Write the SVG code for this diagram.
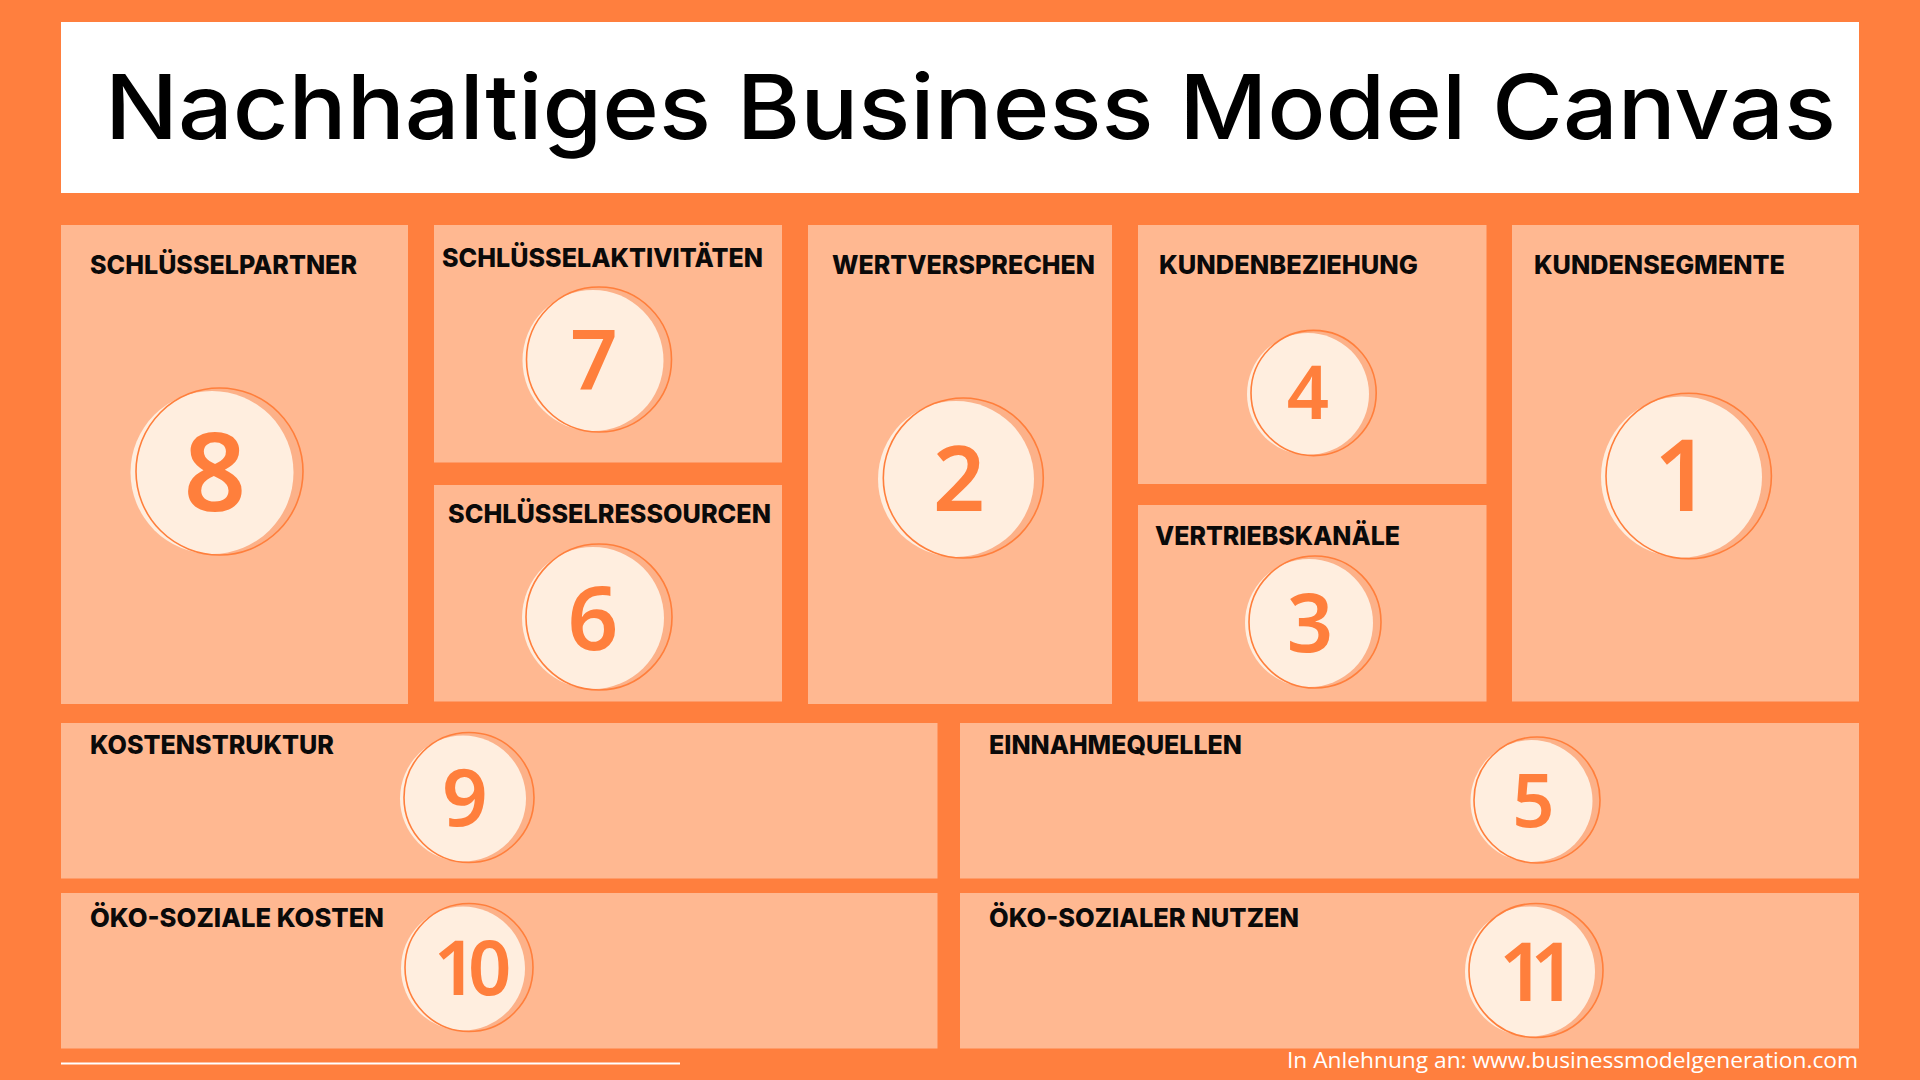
<svg xmlns="http://www.w3.org/2000/svg" width="1920" height="1080" viewBox="0 0 1920 1080">
<style>
.panel{fill:#FFB891}
.lbl{font-family:Inter,"Noto Sans","Liberation Sans",sans-serif;font-weight:800;font-size:26px;fill:#0A0A0A}
.num{font-family:"Noto Sans","Open Sans",sans-serif;font-weight:600;fill:#FF7F3C;text-anchor:middle}
.shade{fill:#FCB189}
.disc{fill:#FFEEDF}
.ring{fill:none;stroke:#FF7F3C;stroke-width:1.6}
</style>
<rect x="0" y="0" width="1920" height="1080" fill="#FF7F3E"/>
<g id="title">
<rect x="61" y="22" width="1798" height="171" fill="#FFFFFF"/>
<text x="105" y="139" font-family="Inter,'Noto Sans','Liberation Sans',sans-serif" font-weight="500" font-size="90" fill="#000" textLength="1731" lengthAdjust="spacingAndGlyphs">Nachhaltiges Business Model Canvas</text>
</g>
<g id="node-schluesselpartner">
<rect class="panel" x="61" y="225" width="347" height="479"/>
<text class="lbl" x="90" y="274" textLength="267" lengthAdjust="spacingAndGlyphs">SCHLÜSSELPARTNER</text>
<circle class="shade" cx="219.5" cy="471.5" r="83.5"/>
<circle class="disc" cx="212" cy="472.5" r="81.5"/>
<circle class="ring" cx="219.5" cy="471.5" r="83.5"/>
<text class="num" x="215" y="511" font-size="109">8</text>
</g>
<g id="node-schluesselaktivitaeten">
<rect class="panel" x="434" y="225" width="348" height="237.5"/>
<text class="lbl" x="442" y="267" textLength="321" lengthAdjust="spacingAndGlyphs">SCHLÜSSELAKTIVITÄTEN</text>
<circle class="shade" cx="599" cy="359.5" r="72.5"/>
<circle class="disc" cx="593" cy="360.5" r="70.5"/>
<circle class="ring" cx="599" cy="359.5" r="72.5"/>
<text class="num" x="594" y="389" font-size="83">7</text>
</g>
<g id="node-schluesselressourcen">
<rect class="panel" x="434" y="485" width="348" height="216.5"/>
<text class="lbl" x="448" y="523" textLength="323" lengthAdjust="spacingAndGlyphs">SCHLÜSSELRESSOURCEN</text>
<circle class="shade" cx="599" cy="617" r="73"/>
<circle class="disc" cx="593" cy="618" r="71"/>
<circle class="ring" cx="599" cy="617" r="73"/>
<text class="num" x="593" y="650" font-size="89">6</text>
</g>
<g id="node-wertversprechen">
<rect class="panel" x="808" y="225" width="304" height="479"/>
<text class="lbl" x="832" y="274" textLength="263" lengthAdjust="spacingAndGlyphs">WERTVERSPRECHEN</text>
<circle class="shade" cx="963.3" cy="478" r="80"/>
<circle class="disc" cx="956" cy="479" r="78"/>
<circle class="ring" cx="963.3" cy="478" r="80"/>
<text class="num" x="959" y="511" font-size="91">2</text>
</g>
<g id="node-kundenbeziehung">
<rect class="panel" x="1138" y="225" width="348.5" height="259"/>
<text class="lbl" x="1159" y="274" textLength="259" lengthAdjust="spacingAndGlyphs">KUNDENBEZIEHUNG</text>
<circle class="shade" cx="1313.6" cy="393" r="62.6"/>
<circle class="disc" cx="1308" cy="394" r="61"/>
<circle class="ring" cx="1313.6" cy="393" r="62.6"/>
<text class="num" x="1308" y="419" font-size="74">4</text>
</g>
<g id="node-vertriebskanaele">
<rect class="panel" x="1138" y="505" width="348.5" height="196.5"/>
<text class="lbl" x="1155" y="545" textLength="245" lengthAdjust="spacingAndGlyphs">VERTRIEBSKANÄLE</text>
<circle class="shade" cx="1315" cy="622" r="66"/>
<circle class="disc" cx="1309" cy="623" r="64"/>
<circle class="ring" cx="1315" cy="622" r="66"/>
<text class="num" x="1310" y="652" font-size="81">3</text>
</g>
<g id="node-kundensegmente">
<rect class="panel" x="1512" y="225" width="347" height="476.5"/>
<text class="lbl" x="1534" y="274" textLength="251" lengthAdjust="spacingAndGlyphs">KUNDENSEGMENTE</text>
<circle class="shade" cx="1688.7" cy="476" r="82.7"/>
<circle class="disc" cx="1681.5" cy="477" r="80.5"/>
<circle class="ring" cx="1688.7" cy="476" r="82.7"/>
<text class="num" x="1682" y="511" font-size="99">1</text>
</g>
<g id="node-kostenstruktur">
<rect class="panel" x="61" y="723" width="876.5" height="155.5"/>
<text class="lbl" x="90" y="754" textLength="244" lengthAdjust="spacingAndGlyphs">KOSTENSTRUKTUR</text>
<circle class="shade" cx="469" cy="797.5" r="65"/>
<circle class="disc" cx="463" cy="798.5" r="63"/>
<circle class="ring" cx="469" cy="797.5" r="65"/>
<text class="num" x="465" y="826" font-size="80">9</text>
</g>
<g id="node-einnahmequellen">
<rect class="panel" x="960" y="723" width="899" height="155.5"/>
<text class="lbl" x="989" y="754" textLength="253" lengthAdjust="spacingAndGlyphs">EINNAHMEQUELLEN</text>
<circle class="shade" cx="1537" cy="800" r="63"/>
<circle class="disc" cx="1531.5" cy="801" r="61"/>
<circle class="ring" cx="1537" cy="800" r="63"/>
<text class="num" x="1533.5" y="826.5" font-size="74">5</text>
</g>
<g id="node-oeko-soziale-kosten">
<rect class="panel" x="61" y="893" width="876.5" height="155.5"/>
<text class="lbl" x="90" y="927" textLength="294" lengthAdjust="spacingAndGlyphs">ÖKO-SOZIALE KOSTEN</text>
<circle class="shade" cx="469" cy="967.5" r="64"/>
<circle class="disc" cx="463" cy="968.5" r="62"/>
<circle class="ring" cx="469" cy="967.5" r="64"/>
<text class="num" x="468" y="995" font-size="76" letter-spacing="-9">10</text>
</g>
<g id="node-oeko-sozialer-nutzen">
<rect class="panel" x="960" y="893" width="899" height="155.5"/>
<text class="lbl" x="989" y="927" textLength="310" lengthAdjust="spacingAndGlyphs">ÖKO-SOZIALER NUTZEN</text>
<circle class="shade" cx="1536" cy="970.5" r="67"/>
<circle class="disc" cx="1530" cy="971.5" r="65"/>
<circle class="ring" cx="1536" cy="970.5" r="67"/>
<text class="num" x="1530" y="1001" font-size="81" letter-spacing="-15">11</text>
</g>
<g id="connectors"></g>
<g id="footer">
<line x1="61" y1="1063.5" x2="680" y2="1063.5" stroke="#FFFFFF" stroke-width="2"/>
<text x="1858" y="1068" text-anchor="end" font-family="'Open Sans','Noto Sans',sans-serif" font-weight="400" font-size="22" fill="#FFFFFF" textLength="571" lengthAdjust="spacingAndGlyphs">In Anlehnung an: www.businessmodelgeneration.com</text>
</g>
</svg>
